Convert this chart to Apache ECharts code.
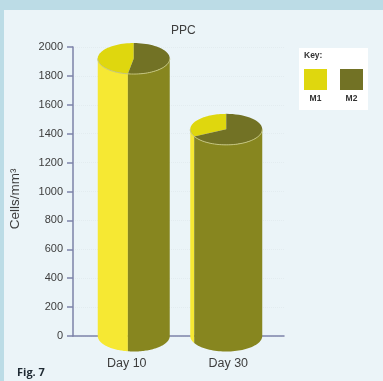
<!DOCTYPE html>
<html>
<head>
<meta charset="utf-8">
<title>PPC</title>
<style>html,body{margin:0;padding:0;background:#bcdce6}#chart{width:383px;height:381px}</style>
<script src="https://cdn.jsdelivr.net/npm/echarts@6/dist/echarts.min.js"></script>
</head>
<body>
<div id="chart"></div>
<script>
// Cell counts per time point, split into M1 and M2 populations
const categories = ['Day 10', 'Day 30'];
const seriesNames = ['M1', 'M2'];
const m1Values = [910, 465];
const m2Values = [1010, 965];
const yTicks = { min: 0, max: 2000, interval: 200 };

const FONT = '"Liberation Sans", Arial, sans-serif';
const C = {
  outer: '#bcdce6', panel: '#ebf4f8', axis: '#7d83a9', text: '#3d3d3d',
  m1Front: '#f6e833', m2Front: '#87861f', m1Top: '#dfd70e', m2Top: '#727225', rim: '#c4c47c'
};
const CYL = { rx: 36, ry: 15.5, shift: [8, -5] };
const LABEL_PADDING = [[0, 0, 0, 2], [0, 6, 0, 0]];

// Point on an ellipse; angle runs counter-clockwise from the back (top of the ellipse)
const pt = (cx, cy, a) => [cx - CYL.rx * Math.sin(a), cy - CYL.ry * Math.cos(a)];
const arc = (cx, cy, a0, a1) => {
  const out = [], n = 48;
  for (let i = 0; i <= n; i++) out.push(pt(cx, cy, a0 + (a1 - a0) * i / n));
  return out;
};
const poly = (points, fill, z2) => ({ type: 'polygon', z2, shape: { points }, style: { fill } });

function renderCylinder(params, api) {
  const i = api.value(0), a = api.value(1), b = api.value(2);
  const base = api.coord([i, 0]);
  const top = api.coord([i, a + b]);
  const cx = base[0] + CYL.shift[i];
  const split = 2 * Math.PI * a / (a + b);
  const left = Math.PI / 2, right = 3 * Math.PI / 2;
  const front = Math.min(Math.max(split, left), right);
  const side = (a0, a1, fill, z2) => poly(
    arc(cx, top[1], a0, a1).concat(arc(cx, base[1], a1, a0)), fill, z2);
  return {
    type: 'group',
    children: [
      side(left, front, C.m1Front, 1),
      side(front, right, C.m2Front, 1),
      poly([[cx, top[1]]].concat(arc(cx, top[1], 0, split)), C.m1Top, 2),
      poly([[cx, top[1]]].concat(arc(cx, top[1], split, 2 * Math.PI)), C.m2Top, 2),
      { type: 'polyline', z2: 3, shape: { points: arc(cx, top[1], left, right) },
        style: { fill: null, stroke: C.rim, lineWidth: 1 } }
    ]
  };
}

// Key box: title, two swatches and their captions
const keyX = [315.5, 351.5];
const keyItems = seriesNames.flatMap((name, k) => [
  { type: 'rect', z: 5, shape: { x: keyX[k] - 11.5, y: 69, width: 23, height: 21 },
    style: { fill: [C.m1Top, C.m2Top][k] } },
  { type: 'text', z: 5, x: keyX[k], y: 99,
    style: { text: name, fill: '#333', font: 'bold 8.5px ' + FONT, align: 'center', verticalAlign: 'middle' } }
]);

const chart = echarts.init(document.getElementById('chart'), null, { renderer: 'canvas' });
chart.setOption({
  animation: false,
  backgroundColor: C.outer,
  title: {
    text: 'PPC', left: 166, top: 20,
    textStyle: { fontFamily: FONT, fontSize: 12, fontWeight: 'normal', color: C.text }
  },
  grid: { left: 73, right: 99, top: 47, bottom: 45 },
  xAxis: {
    type: 'category',
    data: categories.map((value, i) => ({ value, textStyle: { padding: LABEL_PADDING[i] } })),
    axisLine: { lineStyle: { color: C.axis, width: 1.5 } },
    axisTick: { show: false },
    axisLabel: { margin: 21, fontFamily: FONT, fontSize: 12.5, color: C.text },
    splitLine: { show: false }
  },
  yAxis: {
    type: 'value', min: yTicks.min, max: yTicks.max, interval: yTicks.interval,
    axisLine: { show: true, lineStyle: { color: C.axis, width: 1.5 } },
    axisTick: { show: true, length: 6, lineStyle: { color: C.axis, width: 1.5 } },
    axisLabel: { margin: 10, fontFamily: FONT, fontSize: 11, color: C.text, formatter: v => String(v) },
    splitLine: { show: true, lineStyle: { color: '#e3ecf0', type: 'dotted', width: 1 } }
  },
  series: [{
    type: 'custom', name: 'PPC', renderItem: renderCylinder, clip: false,
    encode: { x: 0, y: [1, 2] },
    data: categories.map((_, i) => [i, m1Values[i], m2Values[i]])
  }],
  graphic: [
    { type: 'rect', z: -10, silent: true, shape: { x: 4, y: 10, width: 379, height: 371 }, style: { fill: C.panel } },
    { type: 'rect', z: -5, silent: true, shape: { x: 299, y: 48, width: 69, height: 62 }, style: { fill: '#ffffff' } },
    { type: 'text', z: 5, x: 15, y: 199, rotation: Math.PI / 2,
      style: { text: 'Cells/mm³', fill: C.text, font: '13.5px ' + FONT, align: 'center', verticalAlign: 'middle' } },
    { type: 'text', z: 5, x: 304, y: 56,
      style: { text: 'Key:', fill: '#333', font: 'bold 8.5px ' + FONT, verticalAlign: 'middle' } },
    ...keyItems,
    { type: 'text', z: 5, x: 17, y: 373,
      style: { text: 'Fig. 7', fill: '#1f2a33', font: 'bold 11px "Open Sans", ' + FONT, verticalAlign: 'middle' } }
  ]
});
</script>
</body>
</html>
